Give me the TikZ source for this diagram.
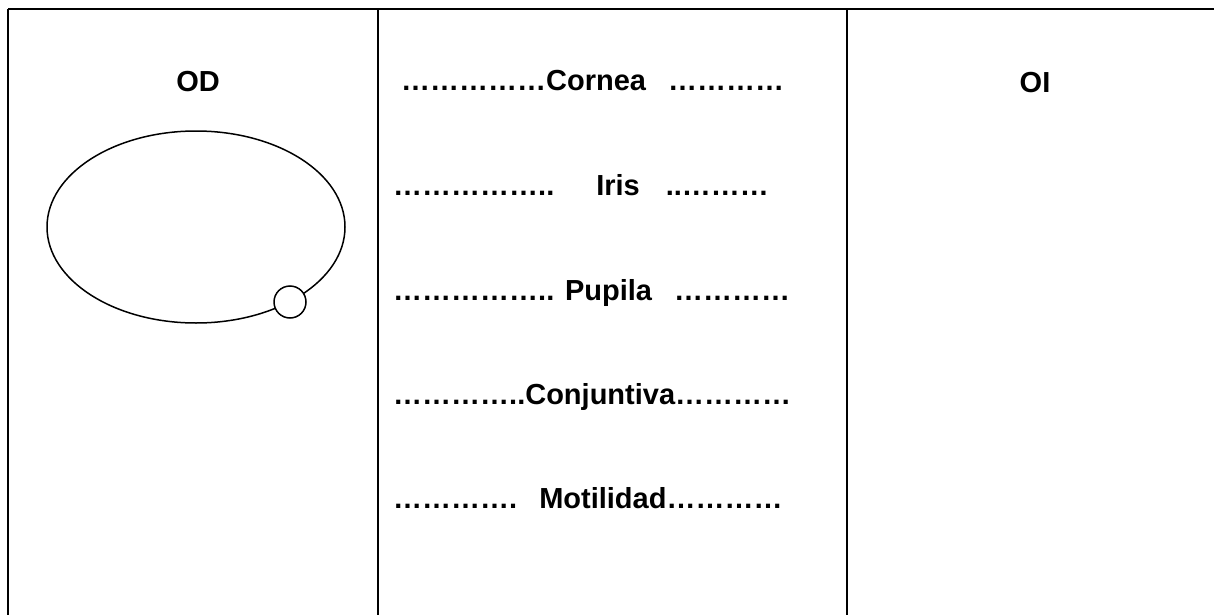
\documentclass[tikz,border=0pt]{standalone}
\usepackage{fontspec}
\setmainfont{Liberation Sans}
\usepackage{tikz}
\usetikzlibrary{shapes.geometric}

\tikzset{
  rule/.style={line width=2pt},
  head/.style={font=\fontsize{29}{34}\selectfont\bfseries, inner sep=0pt, anchor=base},
  entry/.style={font=\fontsize{29}{34}\selectfont\bfseries, inner sep=0pt, anchor=base west}
}

\begin{document}
\begin{tikzpicture}[x=1pt, y=-1pt]
  \useasboundingbox (0,0) rectangle (1214,615);

  % Table
  \coordinate (tl) at (8,9);
  \coordinate (tr) at (1230,9);
  \draw[rule] (tl) -- (tr);
  \foreach \x in {8,378,847} \draw[rule] (\x,9) -- (\x,630);

  % Headings
  \node[head] (od) at (198,92) {OD};
  \node[head] (oi) at (1035,93) {OI};

  % Eye (OD)
  \node[draw, ellipse, line width=1.5pt, inner sep=0pt,
        minimum width=298pt, minimum height=192pt] (eyeOD) at (196,227) {};
  \node[draw, circle, line width=1.5pt, fill=white, inner sep=0pt,
        minimum size=32pt] (dotOD) at (290,302) {};

  % Middle column
  \node[entry] (cornea) at (401,91) {……………Cornea\hspace{22pt}…………};
  \node[entry] (iris) at (393,195) {……………..\hspace{42pt}Iris\hspace{26pt}..………};
  \node[entry] (pupila) at (393,300) {…………….. Pupila\hspace{22pt}…………};
  \node[entry] (conjuntiva) at (393,404) {…………..Conjuntiva…………};
  \node[entry] (motilidad) at (393,508) {………….\hspace{22pt}Motilidad…………};
\end{tikzpicture}
\end{document}
